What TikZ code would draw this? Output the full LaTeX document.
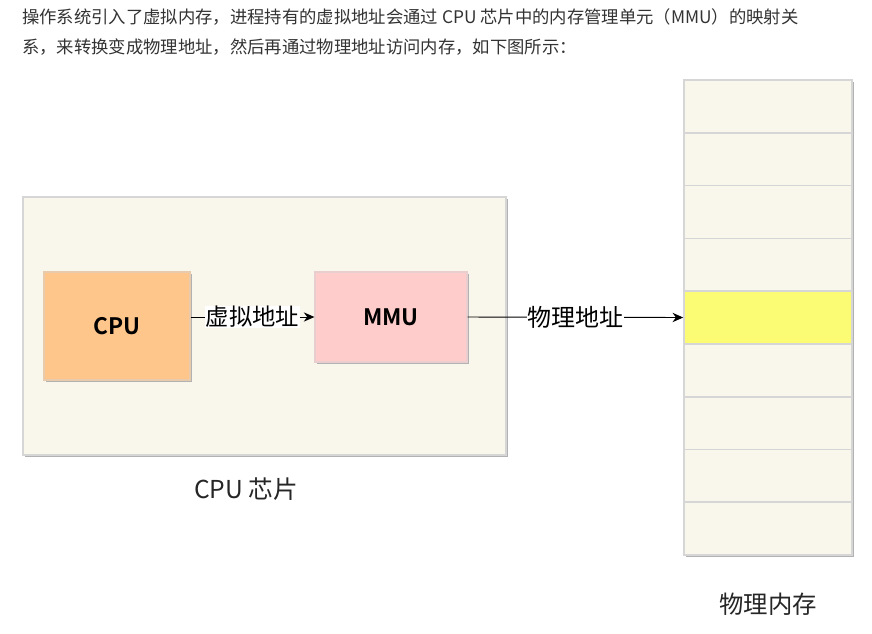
\documentclass[tikz,border=0pt]{standalone}
\usepackage{fontspec}
\setmainfont{Noto Sans CJK SC}[BoldFont={Noto Sans CJK SC Bold}]
\usetikzlibrary{arrows.meta,shadows}
\definecolor{chipbg}{HTML}{F9F6EC}
\definecolor{cpuorange}{HTML}{FFC68B}
\definecolor{mmupink}{HTML}{FFCCCC}
\definecolor{hotyellow}{HTML}{FCFC74}
\definecolor{edgegrey}{HTML}{D6D6D6}
\definecolor{textgrey}{HTML}{333333}
\tikzset{
	box/.style={draw=edgegrey, line width=0.9pt, drop shadow={shadow xshift=1.3pt, shadow yshift=-1.3pt, fill=black!30, opacity=1}},
	memrow/.style={draw=edgegrey, line width=1.2pt, fill=chipbg, minimum width=126pt, minimum height=39.58pt, inner sep=0pt},
	link/.style={-{Stealth[length=8pt,width=7pt]}, line width=0.7pt},
	tag/.style={fill=white, inner sep=0.5pt, font=\fontsize{18pt}{20pt}\selectfont},
	chiptext/.style={font=\fontsize{17pt}{20pt}\selectfont\bfseries},
}
\begin{document}
\begin{tikzpicture}[x=0.75pt, y=-0.75pt]
		%%%%% START %%%%%
		\useasboundingbox[fill=white] (0, 0) rectangle (872, 633);
		
		\node[anchor=west, inner sep=0pt, text=textgrey, font=\fontsize{13pt}{15pt}\selectfont] (line1) at (22, 17) {操作系统引入了虚拟内存，进程持有的虚拟地址会通过 CPU 芯片中的内存管理单元（MMU）的映射关};
		\node[anchor=west, inner sep=0pt, text=textgrey, font=\fontsize{13pt}{15pt}\selectfont] (line2) at (22, 47) {系，来转换变成物理地址，然后再通过物理地址访问内存，如下图所示：};
		
		%% chip
		\node[box, fill=chipbg, minimum width=362.25pt, minimum height=193.5pt] (chip) at (264.5, 326) {};
		\node[box, fill=cpuorange, draw=cpuorange!85!black!60, minimum width=109.5pt, minimum height=81pt, chiptext] (cpu) at (117, 326) {CPU};
		\node[box, fill=mmupink, draw=mmupink!85!black!60, minimum width=114pt, minimum height=67.5pt, chiptext] (mmu) at (391, 317) {MMU};
		\node[font=\fontsize{18.5pt}{20pt}\selectfont, text=black!85] (chiplabel) at (246, 489) {CPU 芯片};
		
		%% memory
		\node[box, fill=chipbg, minimum width=126pt, minimum height=356.25pt] (mem) at (768, 317.5) {};
		\node[memrow] (row1) at (768, 106.4) {};
		\node[memrow] (row2) at (768, 159.2) {};
		\node[memrow] (row3) at (768, 212.0) {};
		\node[memrow] (row4) at (768, 264.7) {};
		\node[memrow, fill=hotyellow] (row5) at (768, 317.5) {};
		\node[memrow] (row6) at (768, 370.3) {};
		\node[memrow] (row7) at (768, 423.1) {};
		\node[memrow] (row8) at (768, 475.8) {};
		\node[memrow] (row9) at (768, 528.6) {};
		\node[font=\fontsize{18.3pt}{20pt}\selectfont, text=black!85] (memlabel) at (768, 604) {物理内存};
		
		%% links
		\draw[link] (mmu.west -| cpu.east) -- node[tag, font=\fontsize{17.5pt}{20pt}\selectfont] {虚拟地址} (mmu.west);
		\draw[link] (mmu.east) -- node[tag] {物理地址} (row5.west);
		
		%%%%% END %%%%%
	\end{tikzpicture}
\end{document}
